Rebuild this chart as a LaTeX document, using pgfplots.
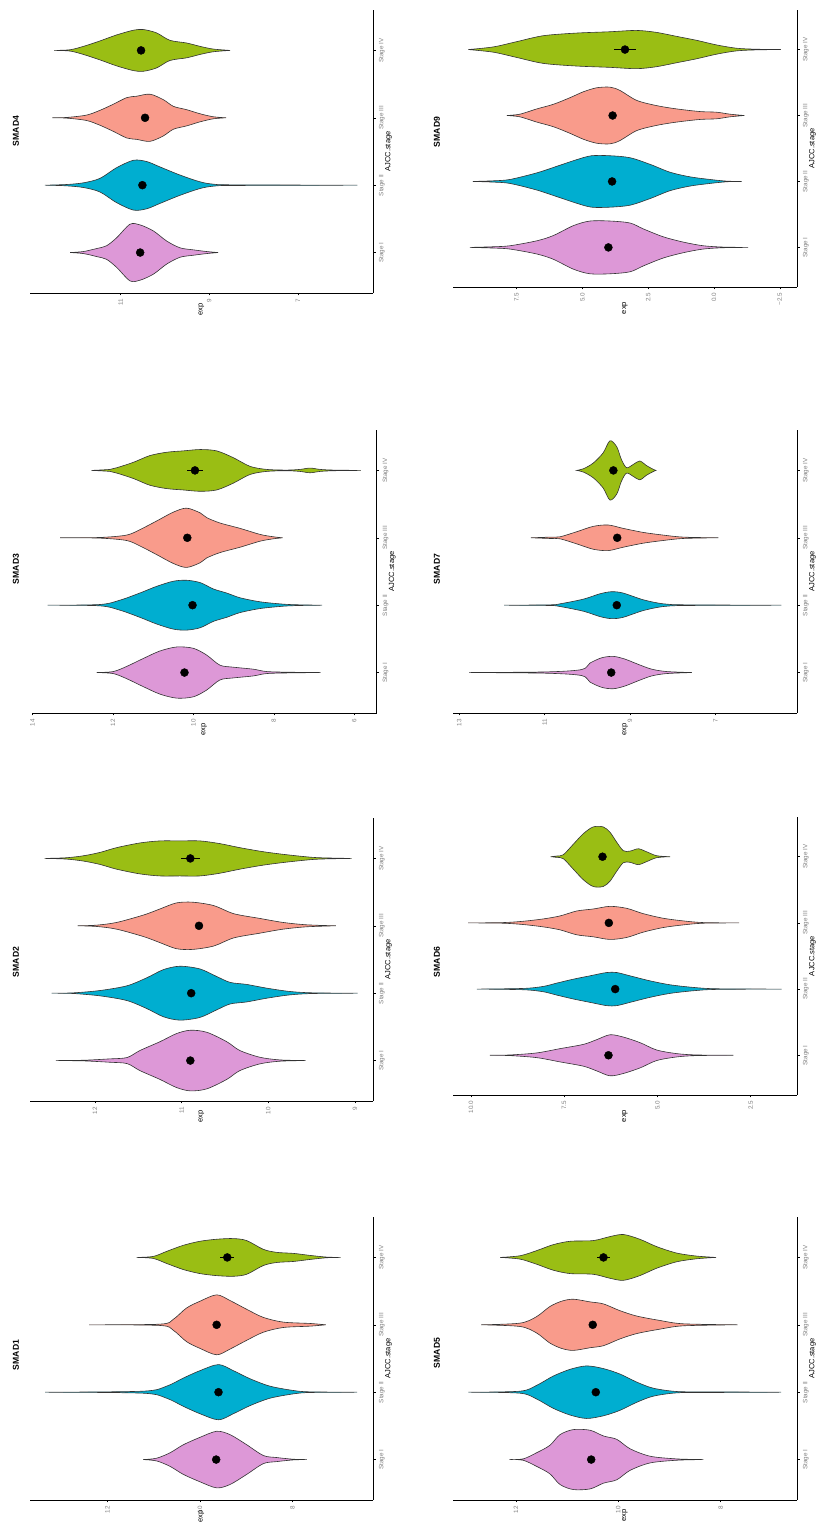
\documentclass[border=0pt]{standalone}
\usepackage{pgfplots}
\pgfplotsset{compat=1.18}
\usepackage{pgfplotstable}
\usepgfplotslibrary{fillbetween}
\usepackage{fontspec}
\setmainfont{Liberation Sans}

\definecolor{stI}{RGB}{221,152,215}
\definecolor{stII}{RGB}{0,174,208}
\definecolor{stIII}{RGB}{249,155,139}
\definecolor{stIV}{RGB}{154,190,20}
\definecolor{edge}{RGB}{51,51,51}
\definecolor{ticktext}{RGB}{128,128,128}

% Violin outlines: e = expression value, w = half width (in stage units)
% SMAD1
\pgfplotstableread{
e w
11.23 0
10.94 0.02
10.65 0.10
10.36 0.22
10.00 0.33
9.64 0.42
9.35 0.37
8.99 0.22
8.63 0.06
8.34 0.03
7.98 0.005
7.69 0
}\OneI
\pgfplotstableread{
e w
13.35 0
11.23 0.015
10.72 0.09
10.36 0.21
10.00 0.32
9.60 0.41
9.28 0.32
8.92 0.20
8.49 0.09
7.98 0.025
7.62 0.005
6.60 0
}\OneII
\pgfplotstableread{
e w
12.40 0
10.86 0.01
10.58 0.08
10.29 0.25
10.00 0.35
9.64 0.445
9.35 0.36
8.99 0.23
8.63 0.11
8.20 0.04
7.62 0.02
7.28 0
}\OneIII
\pgfplotstableread{
e w
11.37 0
11.01 0.015
10.72 0.09
10.36 0.18
10.00 0.24
9.64 0.27
9.28 0.28
8.99 0.25
8.63 0.12
8.34 0.075
7.98 0.06
7.62 0.03
7.26 0.005
6.96 0
}\OneIV
% SMAD2
\pgfplotstableread{
e w
12.45 0
12.13 0.005
11.83 0.025
11.63 0.045
11.48 0.15
11.25 0.28
11.06 0.40
10.90 0.45
10.71 0.42
10.48 0.28
10.33 0.15
10.10 0.05
9.87 0.01
9.57 0
}\TwoI
\pgfplotstableread{
e w
12.50 0
12.25 0.005
11.94 0.04
11.63 0.11
11.40 0.23
11.21 0.35
11.02 0.40
10.79 0.36
10.60 0.25
10.44 0.16
10.25 0.13
10.02 0.075
9.75 0.025
9.48 0.005
8.97 0
}\TwoII
\pgfplotstableread{
e w
12.20 0
11.98 0.01
11.75 0.05
11.44 0.16
11.25 0.25
11.06 0.34
10.87 0.35
10.63 0.30
10.40 0.18
10.10 0.11
9.83 0.05
9.56 0.015
9.22 0
}\TwoIII
\pgfplotstableread{
e w
12.58 0
12.33 0.01
12.13 0.04
11.94 0.09
11.75 0.16
11.48 0.23
11.25 0.26
11.02 0.26
10.79 0.26
10.56 0.22
10.33 0.16
10.06 0.10
9.79 0.055
9.48 0.015
9.25 0.005
9.04 0
}\TwoIV
% SMAD3
\pgfplotstableread{
e w
12.40 0
11.99 0.015
11.66 0.09
11.24 0.21
10.83 0.32
10.41 0.38
10.00 0.36
9.67 0.26
9.34 0.11
9.01 0.08
8.51 0.05
8.18 0.015
7.60 0.005
6.84 0
}\ThreeI
\pgfplotstableread{
e w
13.62 0
12.32 0.01
11.82 0.075
11.33 0.18
10.91 0.28
10.50 0.355
10.17 0.37
9.83 0.335
9.50 0.24
9.17 0.18
8.84 0.11
8.34 0.05
7.76 0.015
7.35 0.005
6.80 0
}\ThreeII
\pgfplotstableread{
e w
13.31 0
12.32 0.005
11.66 0.04
11.33 0.12
10.91 0.25
10.50 0.38
10.17 0.44
9.83 0.37
9.67 0.30
9.34 0.22
8.84 0.14
8.34 0.05
8.01 0.015
7.78 0
}\ThreeIII
\pgfplotstableread{
e w
12.53 0
12.07 0.015
11.90 0.04
11.49 0.12
11.08 0.22
10.66 0.27
10.25 0.29
9.83 0.31
9.42 0.29
9.01 0.19
8.59 0.06
8.18 0.015
7.68 0.005
7.35 0.015
7.10 0.035
6.85 0.015
6.52 0.005
5.84 0
}\ThreeIV
% SMAD4
\pgfplotstableread{
e w
12.14 0
11.84 0.015
11.54 0.06
11.32 0.10
11.09 0.22
10.79 0.42
10.56 0.41
10.26 0.32
9.96 0.17
9.66 0.07
9.36 0.04
9.06 0.015
8.80 0
}\FourI
\pgfplotstableread{
e w
12.71 0
12.22 0.01
11.84 0.035
11.47 0.10
11.09 0.26
10.71 0.37
10.41 0.35
10.11 0.27
9.66 0.15
9.21 0.05
8.91 0.015
8.46 0.005
5.66 0
}\FourII
\pgfplotstableread{
e w
12.54 0
12.22 0.005
11.77 0.04
11.47 0.11
11.17 0.20
10.86 0.30
10.64 0.32
10.34 0.35
10.04 0.27
9.81 0.17
9.51 0.12
9.21 0.06
8.91 0.015
8.62 0
}\FourIII
\pgfplotstableread{
e w
12.50 0
12.14 0.01
11.84 0.06
11.47 0.14
11.09 0.23
10.71 0.30
10.49 0.31
10.19 0.26
9.89 0.15
9.51 0.11
9.21 0.06
8.91 0.02
8.53 0
}\FourIV
% SMAD5
\pgfplotstableread{
e w
12.13 0
11.86 0.01
11.60 0.10
11.34 0.21
11.14 0.37
10.88 0.445
10.55 0.435
10.29 0.35
10.03 0.30
9.77 0.16
9.38 0.05
8.86 0.01
8.34 0
}\FiveI
\pgfplotstableread{
e w
12.93 0
11.92 0.015
11.60 0.10
11.27 0.24
10.94 0.34
10.62 0.39
10.29 0.35
9.97 0.27
9.64 0.15
9.32 0.06
8.86 0.01
8.21 0.005
6.82 0
}\FiveII
\pgfplotstableread{
e w
12.68 0
11.92 0.025
11.60 0.12
11.34 0.27
11.11 0.35
10.88 0.38
10.55 0.34
10.29 0.31
9.97 0.21
9.64 0.13
9.19 0.065
8.73 0.015
7.67 0
}\FiveIII
\pgfplotstableread{
e w
12.31 0
11.92 0.025
11.60 0.10
11.27 0.19
10.94 0.24
10.49 0.25
10.16 0.31
9.90 0.34
9.58 0.27
9.25 0.16
8.86 0.065
8.47 0.02
8.09 0
}\FiveIV
% SMAD6
\pgfplotstableread{
e w
9.49 0
8.95 0.005
8.24 0.035
7.61 0.10
6.98 0.165
6.63 0.235
6.27 0.31
5.91 0.275
5.46 0.19
5.02 0.08
4.48 0.025
3.95 0.005
2.96 0
}\SixI
\pgfplotstableread{
e w
9.84 0
8.59 0.01
8.06 0.04
7.70 0.09
7.25 0.15
6.81 0.20
6.36 0.25
6.09 0.25
5.73 0.20
5.20 0.125
4.66 0.065
4.03 0.025
3.41 0.005
1.67 0
}\SixII
\pgfplotstableread{
e w
10.07 0
9.13 0.005
8.59 0.025
8.06 0.06
7.61 0.105
7.16 0.18
6.72 0.21
6.27 0.25
5.82 0.22
5.38 0.14
4.84 0.07
4.30 0.03
3.77 0.005
2.81 0
}\SixIII
\pgfplotstableread{
e w
7.86 0
7.70 0.01
7.52 0.03
7.25 0.19
6.98 0.35
6.72 0.45
6.45 0.45
6.27 0.37
6.09 0.22
5.91 0.09
5.73 0.085
5.51 0.12
5.29 0.075
5.02 0.015
4.66 0
}\SixIV
% SMAD7
\pgfplotstableread{
e w
12.77 0
10.95 0.01
10.13 0.045
9.94 0.14
9.66 0.22
9.39 0.24
9.12 0.20
8.80 0.12
8.49 0.05
8.14 0.015
7.55 0
}\SevenI
\pgfplotstableread{
e w
11.95 0
10.88 0.005
10.64 0.02
10.09 0.09
9.70 0.17
9.43 0.20
9.16 0.18
8.69 0.08
8.22 0.02
7.67 0.005
5.45 0
}\SevenII
\pgfplotstableread{
e w
11.32 0
10.88 0.01
10.64 0.015
10.25 0.09
9.86 0.17
9.51 0.19
9.16 0.14
8.69 0.08
8.22 0.04
7.75 0.01
6.93 0
}\SevenIII
\pgfplotstableread{
e w
10.25 0
10.09 0.025
9.86 0.11
9.63 0.26
9.47 0.44
9.31 0.35
9.20 0.16
9.08 0.04
8.92 0.09
8.77 0.14
8.61 0.07
8.45 0.015
8.39 0
}\SevenIV
% SMAD9
\pgfplotstableread{
e w
9.27 0
8.38 0.01
7.75 0.025
6.73 0.10
6.10 0.18
5.34 0.33
4.71 0.40
3.95 0.40
3.19 0.37
2.68 0.28
1.92 0.16
1.16 0.08
0.41 0.025
-0.35 0.005
-1.30 0
}\NineI
\pgfplotstableread{
e w
9.16 0
8.38 0.01
7.75 0.03
6.73 0.13
5.97 0.23
5.22 0.33
4.65 0.39
3.95 0.39
3.19 0.36
2.43 0.26
1.67 0.14
0.91 0.07
0.15 0.03
-0.48 0.005
-1.05 0
}\NineII
\pgfplotstableread{
e w
7.87 0
7.37 0.02
6.73 0.10
6.10 0.17
5.47 0.27
4.96 0.36
4.46 0.42
3.95 0.43
3.57 0.38
2.94 0.23
2.18 0.15
1.42 0.10
0.53 0.06
-0.10 0.05
-0.61 0.02
-1.15 0
}\NineIII
\pgfplotstableread{
e w
9.33 0
8.38 0.04
7.49 0.12
6.48 0.21
5.22 0.25
3.95 0.27
2.94 0.29
2.18 0.26
1.42 0.20
0.66 0.14
-0.10 0.07
-0.86 0.02
-1.62 0.005
-2.54 0
}\NineIV

% one violin: table, stage position, fill colour, unique id
\newcommand\violin[4]{%
  \addplot[name path=up#4, draw=none, smooth, tension=0.5, forget plot]
    table[x=e, y expr=#2+\thisrow{w}] {#1};
  \addplot[name path=lo#4, draw=none, smooth, tension=0.5, forget plot]
    table[x=e, y expr=#2-\thisrow{w}] {#1};
  \addplot[fill=#3, draw=edge, line width=0.6pt, forget plot]
    fill between[of=up#4 and lo#4];
}

\pgfplotsset{
  panel/.style={
    scale only axis,
    anchor=south west,
    x dir=reverse,
    ymin=0.4, ymax=4.6,
    axis x line=bottom, axis y line=right,
    axis line style={-, black, line width=0.8pt},
    tick align=outside,
    major tick length=2.5pt,
    tick style={black, line width=0.5pt},
    ytick={1,2,3,4},
    yticklabels={Stage I, Stage II, Stage III, Stage IV},
    tick label style={font=\fontsize{6.3}{7}\selectfont, text=ticktext},
    xticklabel style={rotate=90, anchor=east},
    yticklabel style={rotate=90, anchor=north},
    xlabel={exp}, ylabel={AJCC.stage},
  },
  xlab/.style={every axis x label/.style={at={(axis description cs:0.5,-#1)}, anchor=center, rotate=90, font=\fontsize{7.5}{9}\selectfont}},
  ylab/.style={every axis y label/.style={at={(axis description cs:1+#1,0.5)}, anchor=center, rotate=90, font=\fontsize{7.5}{9}\selectfont}},
  meanpts/.style={only marks, mark=*, mark size=4pt, black,
    error bars/.cd, x dir=both, x explicit, error mark=none,
    error bar style={black, line width=0.8pt}},
}

\newcommand\paneltitle[2]{\node[rotate=90, font=\fontsize{8.6}{10}\selectfont\bfseries] at #1 {#2};}

\begin{document}
\begin{tikzpicture}

% ---- SMAD4
\begin{axis}[panel, at={(30pt,1229pt)}, width=343pt, height=283pt,
  xmin=5.308, xmax=13.045, xtick={7,9,11}, xticklabels={7,9,11},
  xlab=0.0583, ylab=0.0452]
\violin{\FourI}{1}{stI}{a}
\violin{\FourII}{2}{stII}{b}
\violin{\FourIII}{3}{stIII}{c}
\violin{\FourIV}{4}{stIV}{d}
\addplot[meanpts] coordinates {(10.56,1) +- (0.04,0) (10.51,2) +- (0.04,0) (10.45,3) +- (0.05,0) (10.54,4) +- (0.10,0)};
\end{axis}
\paneltitle{(16pt,1391pt)}{SMAD4}

% ---- SMAD3
\begin{axis}[panel, at={(31.7pt,809pt)}, width=345pt, height=283pt,
  xmin=5.444, xmax=14.016, xtick={6,8,10,12,14}, xticklabels={6,8,10,12,14},
  xlab=0.0583, ylab=0.0449]
\violin{\ThreeI}{1}{stI}{a}
\violin{\ThreeII}{2}{stII}{b}
\violin{\ThreeIII}{3}{stIII}{c}
\violin{\ThreeIV}{4}{stIV}{d}
\addplot[meanpts] coordinates {(10.22,1) +- (0.05,0) (10.02,2) +- (0.05,0) (10.15,3) +- (0.06,0) (9.96,4) +- (0.20,0)};
\end{axis}
\paneltitle{(16pt,953pt)}{SMAD3}

% ---- SMAD2
\begin{axis}[panel, at={(30pt,421pt)}, width=343pt, height=283pt,
  xmin=8.792, xmax=12.75, xtick={9,10,11,12}, xticklabels={9,10,11,12},
  xlab=0.0548, ylab=0.0452]
\violin{\TwoI}{1}{stI}{a}
\violin{\TwoII}{2}{stII}{b}
\violin{\TwoIII}{3}{stIII}{c}
\violin{\TwoIV}{4}{stIV}{d}
\addplot[meanpts] coordinates {(10.90,1) +- (0.03,0) (10.89,2) +- (0.03,0) (10.80,3) +- (0.03,0) (10.90,4) +- (0.11,0)};
\end{axis}
\paneltitle{(16pt,560pt)}{SMAD2}

% ---- SMAD1
\begin{axis}[panel, at={(30pt,22pt)}, width=343pt, height=283pt,
  xmin=6.259, xmax=13.676, xtick={8,10,12}, xticklabels={8,10,12},
  xlab=0.0583, ylab=0.0452]
\violin{\OneI}{1}{stI}{a}
\violin{\OneII}{2}{stII}{b}
\violin{\OneIII}{3}{stIII}{c}
\violin{\OneIV}{4}{stIV}{d}
\addplot[meanpts] coordinates {(9.65,1) +- (0.05,0) (9.60,2) +- (0.05,0) (9.64,3) +- (0.06,0) (9.41,4) +- (0.15,0)};
\end{axis}
\paneltitle{(16pt,167pt)}{SMAD1}

% ---- SMAD9
\begin{axis}[panel, at={(453pt,1235pt)}, width=344pt, height=277pt,
  xmin=-3.153, xmax=9.912, xtick={-2.5,0,2.5,5,7.5}, xticklabels={−2.5,0.0,2.5,5.0,7.5},
  xlab=0.0758, ylab=0.0451]
\violin{\NineI}{1}{stI}{a}
\violin{\NineII}{2}{stII}{b}
\violin{\NineIII}{3}{stIII}{c}
\violin{\NineIV}{4}{stIV}{d}
\addplot[meanpts] coordinates {(4.01,1) +- (0.10,0) (3.87,2) +- (0.10,0) (3.85,3) +- (0.12,0) (3.38,4) +- (0.41,0)};
\end{axis}
\paneltitle{(437pt,1390pt)}{SMAD9}

% ---- SMAD7
\begin{axis}[panel, at={(453pt,809pt)}, width=344pt, height=283pt,
  xmin=5.086, xmax=13.148, xtick={7,9,11,13}, xticklabels={7,9,11,13},
  xlab=0.0583, ylab=0.0451]
\violin{\SevenI}{1}{stI}{a}
\violin{\SevenII}{2}{stII}{b}
\violin{\SevenIII}{3}{stIII}{c}
\violin{\SevenIV}{4}{stIV}{d}
\addplot[meanpts] coordinates {(9.44,1) +- (0.03,0) (9.31,2) +- (0.03,0) (9.30,3) +- (0.04,0) (9.39,4) +- (0.06,0)};
\end{axis}
\paneltitle{(437pt,953pt)}{SMAD7}

% ---- SMAD6
\begin{axis}[panel, at={(453pt,427pt)}, width=344pt, height=278pt,
  xmin=1.256, xmax=10.478, xtick={2.5,5,7.5,10}, xticklabels={2.5,5.0,7.5,10.0},
  xlab=0.0755, ylab=0.0451]
\violin{\SixI}{1}{stI}{a}
\violin{\SixII}{2}{stII}{b}
\violin{\SixIII}{3}{stIII}{c}
\violin{\SixIV}{4}{stIV}{d}
\addplot[meanpts] coordinates {(6.31,1) +- (0.06,0) (6.13,2) +- (0.06,0) (6.30,3) +- (0.07,0) (6.47,4) +- (0.10,0)};
\end{axis}
\paneltitle{(437pt,560pt)}{SMAD6}

% ---- SMAD5
\begin{axis}[panel, at={(453pt,22pt)}, width=344pt, height=283pt,
  xmin=6.508, xmax=13.231, xtick={8,10,12}, xticklabels={8,10,12},
  xlab=0.0548, ylab=0.0451]
\violin{\FiveI}{1}{stI}{a}
\violin{\FiveII}{2}{stII}{b}
\violin{\FiveIII}{3}{stIII}{c}
\violin{\FiveIV}{4}{stIV}{d}
\addplot[meanpts] coordinates {(10.53,1) +- (0.05,0) (10.44,2) +- (0.05,0) (10.50,3) +- (0.06,0) (10.29,4) +- (0.13,0)};
\end{axis}
\paneltitle{(437pt,169pt)}{SMAD5}

% fixed page area
\pgfresetboundingbox
\path[use as bounding box] (0pt,0pt) rectangle (816pt,1522pt);
\end{tikzpicture}
\end{document}
